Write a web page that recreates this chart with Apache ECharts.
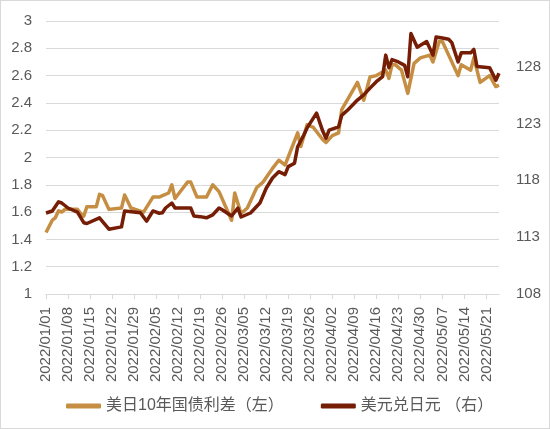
<!DOCTYPE html>
<html>
<head>
<meta charset="utf-8">
<script src="https://cdn.jsdelivr.net/npm/echarts@6/dist/echarts.min.js"></script>
<style>
html,body{margin:0;padding:0;background:#fff;}
#c{width:550px;height:429px;box-sizing:border-box;border:1px solid #d9d9d9;}
</style>
</head>
<body>
<div id="c"></div>
<script>
// Categories: calendar days from 2022/01/01 to 2022/05/25
const startDate = '2022-01-01';
const dayCount = 145;
const categories = [];
(function(){
  const d0 = new Date(startDate + 'T00:00:00Z');
  for (let i = 0; i < dayCount; i++) {
    const d = new Date(d0.getTime() + i * 86400000);
    const m = String(d.getUTCMonth() + 1).padStart(2, '0');
    const dd = String(d.getUTCDate()).padStart(2, '0');
    categories.push(d.getUTCFullYear() + '/' + m + '/' + dd);
  }
})();

const leftTicks = [1, 1.2, 1.4, 1.6, 1.8, 2, 2.2, 2.4, 2.6, 2.8, 3];
const rightTicks = [108, 113, 118, 123, 128];

const seriesNames = ['美日10年国债利差（左）', '美元兑日元 （右）'];

// 美日10年国债利差 (left axis): day offset from 2022/01/01, value
const spreadDay = [0,2,3,4,5,6,10,11,12,13,16,17,18,20,24,25,27,31,34,36,37,39,40,41,43,45,46,48,51,53,55,59,60,62,64,67,69,72,74,76,80,81,83,85,88,89,91,93,94,97,99,101,103,105,108,109,110,111,113,115,117,119,122,123,125,126,128,131,132,135,136,138,141,143,144];
const spreadVal = [1.45,1.54,1.56,1.61,1.60,1.62,1.62,1.59,1.57,1.64,1.64,1.73,1.72,1.62,1.63,1.725,1.63,1.60,1.71,1.71,1.72,1.74,1.80,1.70,1.76,1.82,1.82,1.71,1.71,1.80,1.75,1.54,1.74,1.59,1.63,1.78,1.82,1.92,1.98,1.945,2.18,2.08,2.24,2.22,2.13,2.11,2.16,2.18,2.35,2.47,2.55,2.42,2.59,2.60,2.64,2.58,2.68,2.68,2.64,2.47,2.69,2.73,2.75,2.70,2.85,2.85,2.75,2.60,2.68,2.64,2.73,2.55,2.60,2.52,2.53];

// 美元兑日元 (right axis)
const jpyDay = [0,2,4,5,7,10,12,13,17,20,24,25,30,32,34,36,37,38,40,41,46,47,49,51,53,55,56,59,61,62,65,68,70,72,74,76,77,79,80,82,83,86,88,89,90,93,94,96,99,101,103,105,107,108,109,110,112,114,115,116,118,121,123,124,126,128,129,131,132,135,136,137,141,143,144];
const jpyVal = [115.12,115.3,116.1,116.0,115.56,115.2,114.27,114.2,114.7,113.7,113.9,115.3,115.15,114.4,115.3,115.1,115.15,115.56,116.0,115.56,115.56,114.86,114.8,114.7,114.95,115.56,115.4,114.86,115.56,114.77,115.12,116.0,117.3,118.2,118.75,118.5,119.2,119.5,120.95,122.0,122.6,123.9,122.3,121.7,122.4,122.7,123.7,124.2,125.05,125.5,126.1,126.66,127.1,129.0,127.9,128.6,128.4,128.1,127.1,130.9,129.7,130.2,129.0,130.6,130.5,130.4,130.1,128.4,129.2,129.2,129.5,128.0,127.9,126.8,127.4];

const colors = ['#C58E42', '#761D06'];
const font = '"Liberation Sans", "Noto Sans CJK SC", sans-serif';

const chart = echarts.init(document.getElementById('c'), null, {renderer: 'canvas'});
chart.setOption({
  animation: false,
  color: colors,
  textStyle: {fontFamily: font},
  grid: {left: 45, right: 50, top: 20, bottom: 134, containLabel: false},
  legend: {
    left: 60, top: 392,
    itemWidth: 35, itemHeight: 5, itemGap: 37,
    icon: 'roundRect',
    textStyle: {color: '#595959', fontSize: 16, fontFamily: font},
    data: seriesNames
  },
  xAxis: {
    type: 'category',
    data: categories,
    boundaryGap: false,
    axisLine: {lineStyle: {color: '#d9d9d9', width: 1}},
    axisTick: {show: true, interval: 6, length: 5, lineStyle: {color: '#d9d9d9'}},
    axisLabel: {interval: 6, rotate: 90, color: '#595959', fontSize: 15, margin: 13, fontFamily: font},
    splitLine: {show: false}
  },
  yAxis: [{
    type: 'value', min: leftTicks[0], max: leftTicks[leftTicks.length - 1], interval: 0.2,
    axisLine: {show: false}, axisTick: {show: false},
    axisLabel: {color: '#595959', fontSize: 15, margin: 14, fontFamily: font},
    splitLine: {lineStyle: {color: '#d9d9d9', width: 1}}
  }, {
    type: 'value', min: rightTicks[0], max: 132, interval: 5,
    axisLine: {show: false}, axisTick: {show: false},
    axisLabel: {color: '#595959', fontSize: 15, margin: 17, showMaxLabel: false, fontFamily: font},
    splitLine: {show: false}
  }],
  series: [{
    name: seriesNames[0], type: 'line', yAxisIndex: 0, symbol: 'none',
    lineStyle: {width: 3.5, color: colors[0], join: 'round'},
    data: spreadDay.map((d, i) => [categories[d], spreadVal[i]])
  }, {
    name: seriesNames[1], type: 'line', yAxisIndex: 1, symbol: 'none',
    lineStyle: {width: 3.5, color: colors[1], join: 'round'},
    data: jpyDay.map((d, i) => [categories[d], jpyVal[i]])
  }]
});
</script>
</body>
</html>
